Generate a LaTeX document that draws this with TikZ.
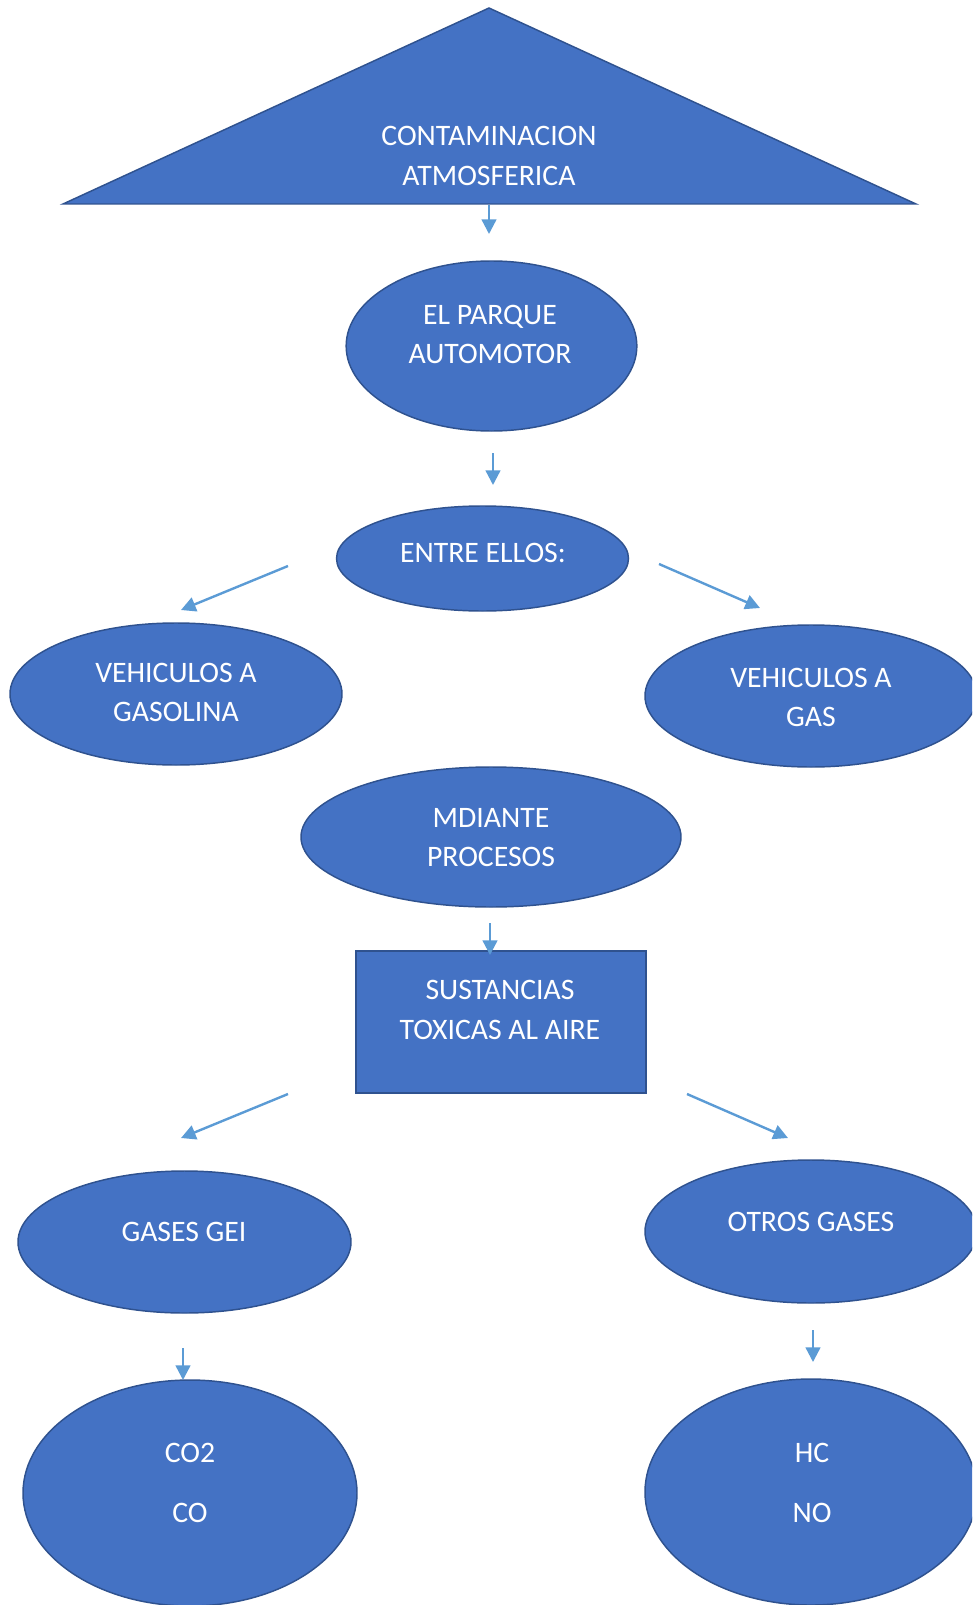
\documentclass[tikz,border=0pt]{standalone}
\usepackage{fontspec}
\setmainfont{Carlito}
\usetikzlibrary{arrows.meta,shapes.geometric}

\definecolor{shapeblue}{RGB}{68,114,196}
\definecolor{edgeblue}{RGB}{47,82,143}
\definecolor{arrowblue}{RGB}{91,155,213}

\tikzset{every picture/.style={line width=0.75pt},
  oval/.style={ellipse, draw=edgeblue, fill=shapeblue, line width=1.1pt, inner sep=0pt},
  box/.style={rectangle, draw=edgeblue, fill=shapeblue, line width=1.6pt, inner sep=0pt},
  lbl/.style={text=white, align=center, inner sep=0pt, font=\fontsize{22.3}{29.6}\selectfont},
  link/.style={draw=arrowblue, line width=1.8pt, -{Triangle[length=11pt,width=11pt]}}}

\begin{document}
\begin{tikzpicture}[x=0.75pt,y=0.75pt,yscale=-1,xscale=1]
\useasboundingbox (0,0) rectangle (972,1605);
\clip (0,0) rectangle (972,1605);

% title
\draw [draw=edgeblue, fill=shapeblue, line width=1.1pt] (489,8) -- (916,204) -- (63,204) -- cycle;
\node [lbl] (titulo) at (489,156) {CONTAMINACION\\ATMOSFERICA};

% shapes
\node [oval, minimum width=218pt, minimum height=127.5pt] (parque) at (491.5,346) {};
\node [oval, minimum width=219pt, minimum height=78.75pt] (entre) at (482.5,558.5) {};
\node [oval, minimum width=249pt, minimum height=106.5pt] (gasolina) at (176,694) {};
\node [oval, minimum width=249pt, minimum height=106.5pt] (gas) at (811,696) {};
\node [oval, minimum width=285pt, minimum height=105pt] (mediante) at (491,837) {};
\node [box, minimum width=217.5pt, minimum height=106.5pt] (sustancias) at (501,1022) {};
\node [oval, minimum width=249.75pt, minimum height=106.5pt] (gei) at (184.5,1242) {};
\node [oval, minimum width=249pt, minimum height=107.25pt] (otros) at (811,1231.5) {};
\node [oval, minimum width=250.5pt, minimum height=169.5pt] (co) at (190,1493) {};
\node [oval, minimum width=249pt, minimum height=169.5pt] (hc) at (811,1492) {};

% texts
\node [lbl] (parquet) at (490,334.5) {EL PARQUE\\AUTOMOTOR};
\node [lbl] (entret) at (483,553) {ENTRE ELLOS:};
\node [lbl] (gasolinat) at (176,692.5) {VEHICULOS A\\GASOLINA};
\node [lbl] (gast) at (811,697.5) {VEHICULOS A\\GAS};
\node [lbl] (mediantet) at (491,837.5) {MDIANTE\\PROCESOS};
\node [lbl] (sustanciast) at (500,1010) {SUSTANCIAS\\TOXICAS AL AIRE};
\node [lbl] (geit) at (184,1232) {GASES GEI};
\node [lbl] (otrost) at (811,1222) {OTROS GASES};
\node [lbl] (cot) at (190,1483) {CO2\\[15.4pt]CO};
\node [lbl] (hct) at (812,1482.5) {HC\\[15.4pt]NO};

% arrows
\coordinate (a1s) at (489,205);   \coordinate (a1e) at (489,234);
\coordinate (a2s) at (493,453);   \coordinate (a2e) at (493,485);
\coordinate (a3s) at (288,566);   \coordinate (a3e) at (181,610);
\coordinate (a4s) at (659,564);   \coordinate (a4e) at (760,608);
\coordinate (a5s) at (490,923);   \coordinate (a5e) at (490,955);
\coordinate (a6s) at (288,1094);  \coordinate (a6e) at (181,1138);
\coordinate (a7s) at (687,1094);  \coordinate (a7e) at (788,1138);
\coordinate (a8s) at (183,1348);  \coordinate (a8e) at (183,1380);
\coordinate (a9s) at (813,1330);  \coordinate (a9e) at (813,1362);
\foreach \i in {1,...,9}
  \draw [link] (a\i s) -- (a\i e);

\end{tikzpicture}
\end{document}
